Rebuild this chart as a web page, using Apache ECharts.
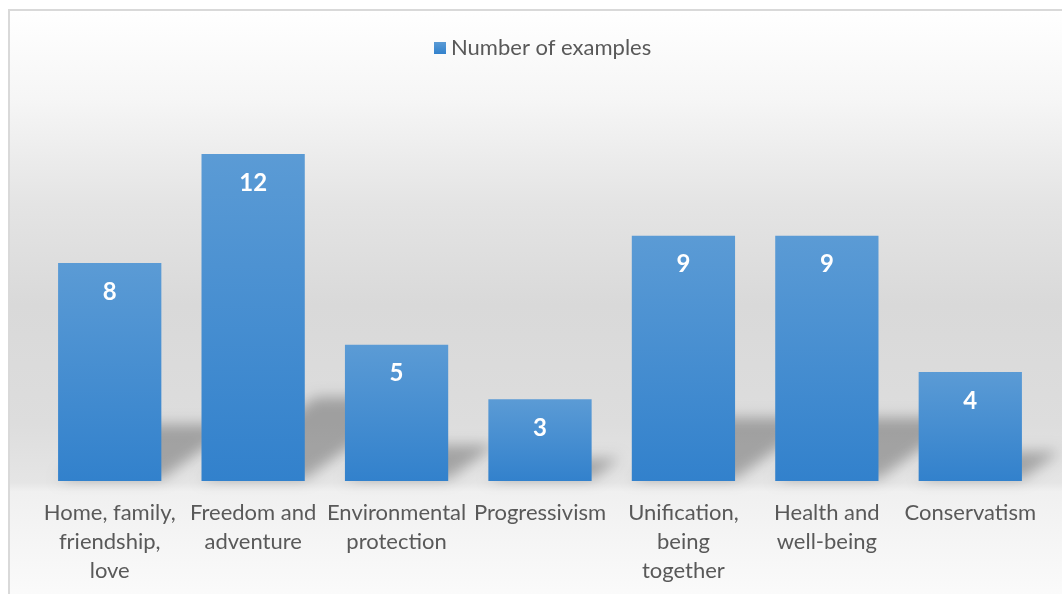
<!DOCTYPE html>
<html>
<head>
<meta charset="utf-8">
<script src="https://cdn.jsdelivr.net/npm/echarts@6/dist/echarts.min.js"></script>
<style>
html,body{margin:0;padding:0;background:#fff;}
#chart{width:1062px;height:594px;}
</style>
</head>
<body>
<div id="chart"></div>
<script>
const categories = [
  "Home, family,\nfriendship,\nlove",
  "Freedom and\nadventure",
  "Environmental\nprotection",
  "Progressivism",
  "Unification,\nbeing\ntogether",
  "Health and\nwell-being",
  "Conservatism"
];
const seriesName = "Number of examples";
const values = [8, 12, 5, 3, 9, 9, 4];

const FONT = "Lato";
const chart = echarts.init(document.getElementById('chart'), null, {renderer: 'canvas'});

const barGradient = new echarts.graphic.LinearGradient(0, 0, 0, 1, [
  {offset: 0, color: '#5b9bd5'},
  {offset: 1, color: '#3281cc'}
]);

const OFF = 3000;

const option = {
  animation: false,
  textStyle: {fontFamily: FONT},
  graphic: [{
    type: 'rect',
    z: -100,
    silent: true,
    shape: {x: 9, y: 10, width: 1060, height: 590},
    style: {
      stroke: '#d9d9d9',
      lineWidth: 2,
      fill: new echarts.graphic.LinearGradient(0, 0, 0, 1, [
        {offset: 0, color: '#ffffff'},
        {offset: 0.15, color: '#f6f6f6'},
        {offset: 0.33, color: '#e4e4e4'},
        {offset: 0.5, color: '#d9d9d9'},
        {offset: 0.7, color: '#dddddd'},
        {offset: 0.8, color: '#e5e5e5'},
        {offset: 0.815, color: '#f0f0f0'},
        {offset: 1, color: '#fbfbfb'}
      ])
    }
  }],
  legend: {
    data: [seriesName],
    top: 32,
    left: 429,
    icon: 'rect',
    itemWidth: 12,
    itemHeight: 12,
    itemGap: 6,
    textStyle: {fontFamily: FONT, fontSize: 22, color: '#595959'}
  },
  grid: {left: 38, right: 20, top: 99.5, bottom: 113, containLabel: false},
  xAxis: {
    type: 'category',
    data: categories,
    axisLine: {show: false},
    axisTick: {show: false},
    axisLabel: {
      interval: 0,
      margin: 17,
      fontFamily: FONT,
      fontSize: 22,
      lineHeight: 29,
      color: '#595959'
    }
  },
  yAxis: {
    type: 'value',
    min: 0,
    max: 14,
    interval: 2,
    show: false,
    splitLine: {show: false}
  },
  series: [
    {
      type: 'custom',
      name: 'shadow',
      silent: true,
      z: 1,
      data: values.map((v, i) => [i, v]),
      renderItem: function (params, api) {
        const base = api.coord([api.value(0), 0]);
        const top = api.coord([api.value(0), api.value(1)]);
        const bw = api.size([1, 0])[0] * 0.72;
        const x0 = base[0] - bw / 2, x1 = base[0] + bw / 2;
        const h = (base[1] - top[1]) * 0.25;
        const d = h * 1.4;
        const by = base[1] - 2;
        return {
          type: 'polygon',
          shape: {points: [[x0 - OFF, by], [x1 - OFF, by], [x1 + d - OFF, by - h], [x0 + d - OFF, by - h]]},
          style: {
            fill: '#000',
            shadowBlur: 14,
            shadowOffsetX: OFF,
            shadowOffsetY: 0,
            shadowColor: 'rgba(0,0,0,0.28)'
          }
        };
      },
      tooltip: {show: false}
    },
    {
      type: 'bar',
      name: seriesName,
      data: values,
      z: 3,
      barCategoryGap: '28%',
      itemStyle: {color: barGradient},
      label: {
        show: true,
        position: 'insideTop',
        distance: 17,
        color: '#ffffff',
        fontFamily: FONT,
        fontWeight: 'bold',
        fontSize: 24
      }
    }
  ]
};
chart.setOption(option);
</script>
</body>
</html>
